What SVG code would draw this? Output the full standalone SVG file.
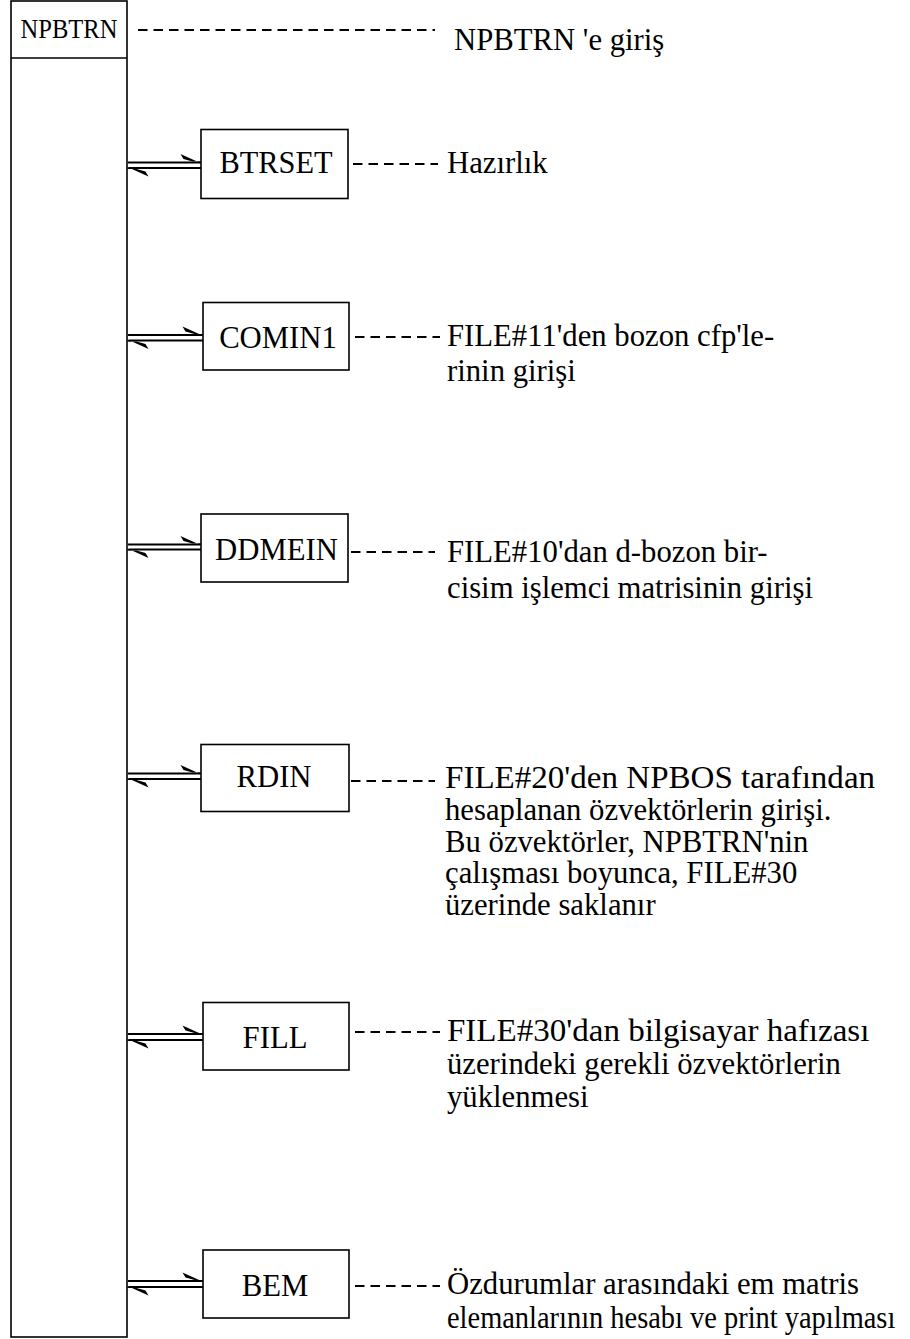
<svg xmlns="http://www.w3.org/2000/svg" width="910" height="1339" viewBox="0 0 910 1339">
<style>
.box{fill:#fff;stroke:#000;stroke-width:1.6}
.t{font-family:"Liberation Serif","Times New Roman",serif;font-size:32px;fill:#000}
.dash{stroke:#000;stroke-width:1.9;stroke-dasharray:9.5 6;fill:none}
.link{stroke:#000;stroke-width:2.2;fill:none;marker-end:url(#harp)}
</style>
<defs>
<marker id="harp" markerUnits="userSpaceOnUse" viewBox="-24 -11 26 13" markerWidth="26" markerHeight="13" refX="0" refY="0" orient="auto">
<path d="M1,1.1 L-20,-8.5 L-17,-3.6 L-8,-1.1 L1,-1.1 Z" fill="#000"/>
</marker>
</defs>
<rect width="910" height="1339" fill="#fff"/>
<g id="connectors">
<line class="dash" x1="138" y1="30" x2="435" y2="30"/>
<line class="dash" x1="353" y1="164" x2="438" y2="164"/>
<line class="dash" x1="355" y1="337" x2="440" y2="337"/>
<line class="dash" x1="351" y1="552" x2="435" y2="552"/>
<line class="dash" x1="351" y1="781" x2="435" y2="781"/>
<line class="dash" x1="355" y1="1032" x2="440" y2="1032"/>
<line class="dash" x1="355" y1="1286" x2="440" y2="1286"/>
<line class="link" x1="128" y1="162.5" x2="200.5" y2="162.5"/>
<line class="link" x1="201" y1="168" x2="128.5" y2="168"/>
<line class="link" x1="128" y1="335" x2="202.5" y2="335"/>
<line class="link" x1="203" y1="340.5" x2="128.5" y2="340.5"/>
<line class="link" x1="128" y1="544.5" x2="200.5" y2="544.5"/>
<line class="link" x1="201" y1="549.5" x2="128.5" y2="549.5"/>
<line class="link" x1="128" y1="773.5" x2="200.5" y2="773.5"/>
<line class="link" x1="201" y1="779" x2="128.5" y2="779"/>
<line class="link" x1="128" y1="1034" x2="202.5" y2="1034"/>
<line class="link" x1="203" y1="1040" x2="128.5" y2="1040"/>
<line class="link" x1="128" y1="1281" x2="202.5" y2="1281"/>
<line class="link" x1="203" y1="1287" x2="128.5" y2="1287"/>
</g>
<g id="NPBTRN">
<rect class="box" x="11" y="1" width="116" height="1336"/>
<line x1="11" y1="58" x2="127" y2="58" stroke="#000" stroke-width="1.6"/>
<text class="t" x="69" y="38" text-anchor="middle" style="font-size:27px" textLength="97" lengthAdjust="spacingAndGlyphs">NPBTRN</text>
<text class="t" transform="translate(454 50) scale(0.96 1)">NPBTRN 'e giriş</text>
</g>
<g id="BTRSET">
<rect class="box" x="201" y="129.5" width="147" height="69"/>
<text class="t" transform="translate(276 173) scale(0.95 1)" text-anchor="middle">BTRSET</text>
<text class="t" transform="translate(447 173) scale(0.96 1)">Hazırlık</text>
</g>
<g id="COMIN1">
<rect class="box" x="203" y="302.5" width="146" height="67.5"/>
<text class="t" transform="translate(278 348) scale(0.96 1)" text-anchor="middle">COMIN1</text>
<text class="t" transform="translate(447 346) scale(0.96 1)">FILE#11'den bozon cfp'le-</text>
<text class="t" transform="translate(447 381) scale(0.96 1)">rinin girişi</text>
</g>
<g id="DDMEIN">
<rect class="box" x="201" y="514" width="147" height="68"/>
<text class="t" transform="translate(276.5 560) scale(0.96 1)" text-anchor="middle">DDMEIN</text>
<text class="t" transform="translate(447 562) scale(0.96 1)">FILE#10'dan d-bozon bir-</text>
<text class="t" transform="translate(447 598) scale(0.96 1)">cisim işlemci matrisinin girişi</text>
</g>
<g id="RDIN">
<rect class="box" x="201" y="744.5" width="148" height="67"/>
<text class="t" transform="translate(274 787) scale(0.96 1)" text-anchor="middle">RDIN</text>
<text class="t" transform="translate(445 788) scale(0.96 1)" textLength="448" lengthAdjust="spacingAndGlyphs">FILE#20'den NPBOS tarafından</text>
<text class="t" transform="translate(445 820) scale(0.96 1)">hesaplanan özvektörlerin girişi.</text>
<text class="t" transform="translate(445 852) scale(0.96 1)">Bu özvektörler, NPBTRN'nin</text>
<text class="t" transform="translate(445 883) scale(0.96 1)">çalışması boyunca, FILE#30</text>
<text class="t" transform="translate(445 915) scale(0.96 1)">üzerinde saklanır</text>
</g>
<g id="FILL">
<rect class="box" x="203" y="1002.5" width="146" height="67.5"/>
<text class="t" transform="translate(275 1048) scale(0.96 1)" text-anchor="middle">FILL</text>
<text class="t" transform="translate(447 1041) scale(0.96 1)" textLength="440" lengthAdjust="spacingAndGlyphs">FILE#30'dan bilgisayar hafızası</text>
<text class="t" transform="translate(447 1074) scale(0.96 1)">üzerindeki gerekli özvektörlerin</text>
<text class="t" transform="translate(447 1107) scale(0.96 1)">yüklenmesi</text>
</g>
<g id="BEM">
<rect class="box" x="203" y="1250" width="146" height="68"/>
<text class="t" transform="translate(275 1296) scale(0.96 1)" text-anchor="middle">BEM</text>
<text class="t" transform="translate(447 1294) scale(0.96 1)">Özdurumlar arasındaki em matris</text>
<text class="t" transform="translate(447 1328) scale(0.96 1)" textLength="467" lengthAdjust="spacingAndGlyphs">elemanlarının hesabı ve print yapılması</text>
</g>
</svg>
